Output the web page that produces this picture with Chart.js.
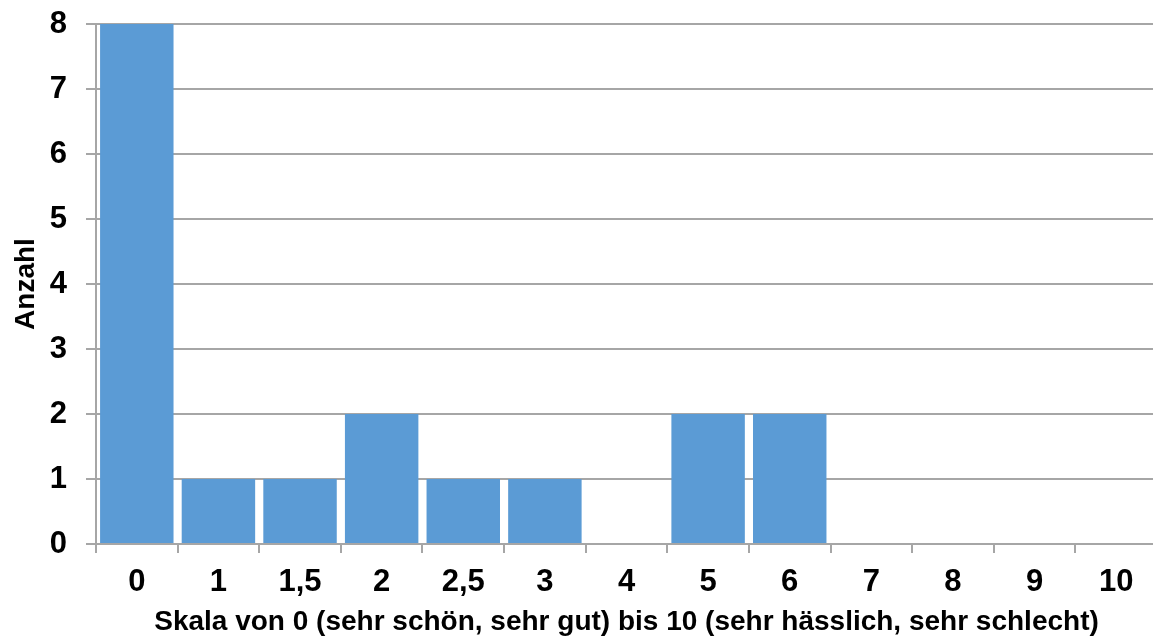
<!DOCTYPE html>
<html>
<head>
<meta charset="utf-8">
<script src="https://cdn.jsdelivr.net/npm/chart.js@4/dist/chart.umd.min.js"></script>
<style>
  html, body { margin: 0; padding: 0; background: #ffffff; overflow: hidden; }
  #wrap { position: absolute; left: 0; top: 0; width: 1158px; height: 641px; }
</style>
</head>
<body>
<div id="wrap"><canvas id="c" width="1158" height="641"></canvas></div>
<script>
const categories = ["0", "1", "1,5", "2", "2,5", "3", "4", "5", "6", "7", "8", "9", "10"];
const counts = [8, 1, 1, 2, 1, 1, 0, 2, 2, 0, 0, 0, 0];
const yTicks = [0, 1, 2, 3, 4, 5, 6, 7, 8];
const xTitle = "Skala von 0 (sehr schön, sehr gut) bis 10 (sehr hässlich, sehr schlecht)";
const yTitle = "Anzahl";

const FONT = "'Liberation Sans', Arial, sans-serif";
const GRID = '#A6A6A6';

new Chart(document.getElementById('c'), {
  type: 'bar',
  data: {
    labels: categories,
    datasets: [{
      data: counts,
      backgroundColor: '#5B9BD5',
      borderWidth: 0,
      barPercentage: 0.9,
      categoryPercentage: 1.0
    }]
  },
  options: {
    responsive: false,
    animation: false,
    devicePixelRatio: 1,
    layout: { padding: { top: 24, right: 1, left: 0, bottom: 0 } },
    plugins: { legend: { display: false }, tooltip: { enabled: false } },
    scales: {
      x: {
        offset: true,
        grid: { display: true, drawOnChartArea: false, offset: true, color: GRID, lineWidth: 2, tickLength: 9 },
        border: { display: true, color: GRID, width: 2 },
        ticks: { color: '#000', font: { family: FONT, size: 31, weight: 'bold' }, padding: 11, maxRotation: 0, autoSkip: false },
        title: { display: true, text: xTitle, color: '#000', font: { family: FONT, size: 28, weight: 'bold' }, padding: { top: 0, bottom: 1.5 } },
        afterFit: (s) => { s.height = 97; s.paddingLeft = 0; s.paddingRight = 0; }
      },
      y: {
        min: yTicks[0],
        max: yTicks[yTicks.length - 1],
        afterBuildTicks: (s) => { s.ticks = yTicks.map(v => ({ value: v })); },
        grid: { color: GRID, lineWidth: 2, tickLength: 10 },
        border: { display: true, color: GRID, width: 2 },
        ticks: { color: '#000', font: { family: FONT, size: 31, weight: 'bold' }, padding: 19, stepSize: 1 },
        title: { display: true, text: yTitle, color: '#000', font: { family: FONT, size: 28, weight: 'bold' }, padding: { top: 9, bottom: 0 } },
        afterFit: (s) => { s.width = 96; s.paddingTop = 0; s.paddingBottom = 0; }
      }
    }
  }
});
</script>
</body>
</html>
